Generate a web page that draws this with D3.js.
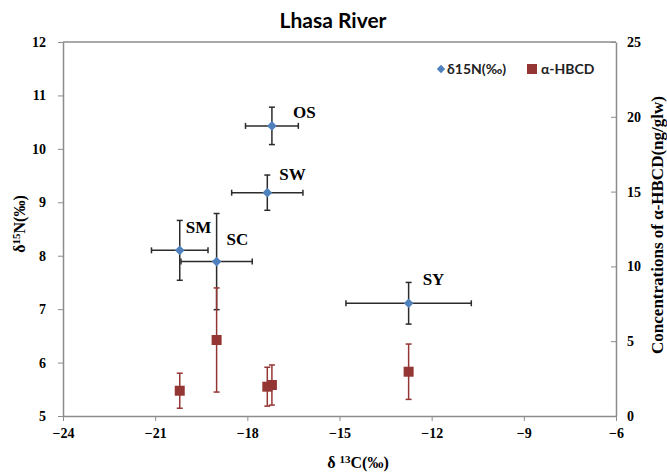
<!DOCTYPE html>
<html>
<head>
<meta charset="utf-8">
<script src="https://cdn.jsdelivr.net/npm/d3@7"></script>
<style>
  body { margin: 0; background: #fff; }
  svg { display: block; }
</style>
</head>
<body>
<div id="chart"></div>
<script>
// Lhasa River: stable isotopes vs alpha-HBCD per site
const sites = ['OS', 'SW', 'SM', 'SC', 'SY'];
const d13C = [-17.2, -17.35, -20.2, -19.0, -12.75];
const d13CErr = [0.86, 1.16, 0.92, 1.16, 2.04];
const d15N = [10.43, 9.18, 8.10, 7.89, 7.11];
const d15NErr = [0.35, 0.33, 0.56, 0.90, 0.39];
const hbcd = [2.07, 1.96, 1.69, 5.08, 2.96];
const hbcdErr = [1.34, 1.30, 1.17, 3.48, 1.85];

const xTicks = [-24, -21, -18, -15, -12, -9, -6];
const yTicks = [5, 6, 7, 8, 9, 10, 11, 12];
const y2Ticks = [0, 5, 10, 15, 20, 25];

// label nudges (px) for the site names
const labelOffset = {
    OS: [21, -8], SW: [12, -13], SM: [6, -17], SC: [10, -17], SY: [14, -18]
};

const W = 667, H = 472;
const margin = { top: 42, right: 51, bottom: 56, left: 63 };
const width = W - margin.left - margin.right;
const height = H - margin.top - margin.bottom;

const blue = '#4F81BD';
const red = '#943634';
const axisGray = '#8c8c8c';
const serif = '"Liberation Serif", "Times New Roman", serif';
const sans = 'Lato, "Open Sans", sans-serif';

const svg = d3.select('#chart').append('svg')
    .attr('width', W)
    .attr('height', H);

const g = svg.append('g')
    .attr('transform', `translate(${margin.left},${margin.top})`);

const x = d3.scaleLinear().domain([-24, -6]).range([0, width]);
const y = d3.scaleLinear().domain([5, 12]).range([height, 0]);
const y2 = d3.scaleLinear().domain([0, 25]).range([height, 0]);

// top border of plot area
g.append('line')
    .attr('x1', 0).attr('x2', width)
    .attr('y1', 0).attr('y2', 0)
    .attr('stroke', axisGray).attr('stroke-width', 1.5);

function styleAxis(sel) {
    sel.select('.domain').attr('stroke', axisGray).attr('stroke-width', 1.5);
    sel.selectAll('.tick line').attr('stroke', axisGray).attr('stroke-width', 1);
    sel.selectAll('.tick text')
        .style('font-family', serif)
        .style('font-size', '14px')
        .style('font-weight', 'bold')
        .attr('fill', '#000');
}

const fmt = d3.format('d');

g.append('g')
    .attr('transform', `translate(0,${height})`)
    .call(d3.axisBottom(x).tickValues(xTicks).tickFormat(fmt).tickSize(5).tickSizeOuter(0).tickPadding(7))
    .call(styleAxis);

g.append('g')
    .call(d3.axisLeft(y).tickValues(yTicks).tickFormat(fmt).tickSize(5).tickSizeOuter(0).tickPadding(12))
    .call(styleAxis);

g.append('g')
    .attr('transform', `translate(${width},0)`)
    .call(d3.axisRight(y2).tickValues(y2Ticks).tickFormat(fmt).tickSize(-5).tickSizeOuter(0).tickPadding(11))
    .call(styleAxis);

// error bars helper
function errorBars(layer, xs, ys, xScale, yScale, yErr, xErr, color) {
    const cap = 3;
    xs.forEach((xv, i) => {
        const cx = xScale(xv), cy = yScale(ys[i]);
        if (xErr) {
            const x0 = xScale(xv - xErr[i]), x1 = xScale(xv + xErr[i]);
            layer.append('line').attr('x1', x0).attr('x2', x1).attr('y1', cy).attr('y2', cy);
            layer.append('line').attr('x1', x0).attr('x2', x0).attr('y1', cy - cap).attr('y2', cy + cap);
            layer.append('line').attr('x1', x1).attr('x2', x1).attr('y1', cy - cap).attr('y2', cy + cap);
        }
        const y0 = yScale(ys[i] - yErr[i]), y1 = yScale(ys[i] + yErr[i]);
        layer.append('line').attr('x1', cx).attr('x2', cx).attr('y1', y0).attr('y2', y1);
        layer.append('line').attr('x1', cx - cap).attr('x2', cx + cap).attr('y1', y0).attr('y2', y0);
        layer.append('line').attr('x1', cx - cap).attr('x2', cx + cap).attr('y1', y1).attr('y2', y1);
    });
    layer.attr('stroke', color).attr('stroke-width', 1.5);
}

// δ15N series
errorBars(g.append('g'), d13C, d15N, x, y, d15NErr, d13CErr, '#2b2b2b');
g.append('g').selectAll('path')
    .data(d13C)
    .enter().append('path')
    .attr('d', d3.symbol().type(d3.symbolDiamond2).size(60))
    .attr('transform', (d, i) => `translate(${x(d)},${y(d15N[i])})`)
    .attr('fill', blue);

// α-HBCD series
errorBars(g.append('g'), d13C, hbcd, x, y2, hbcdErr, null, red);
g.append('g').selectAll('rect')
    .data(d13C)
    .enter().append('rect')
    .attr('x', d => x(d) - 5)
    .attr('y', (d, i) => y2(hbcd[i]) - 5)
    .attr('width', 10).attr('height', 10)
    .attr('fill', red);

// site labels
g.append('g').selectAll('text')
    .data(sites)
    .enter().append('text')
    .attr('x', (d, i) => x(d13C[i]) + labelOffset[d][0])
    .attr('y', (d, i) => y(d15N[i]) + labelOffset[d][1])
    .style('font-family', serif)
    .style('font-size', '17px')
    .style('font-weight', 'bold')
    .text(d => d);

// title
svg.append('text')
    .attr('x', 333).attr('y', 28)
    .attr('text-anchor', 'middle')
    .style('font-family', sans)
    .style('font-size', '21px')
    .style('font-weight', 'bold')
    .text('Lhasa River');

// legend
const legend = svg.append('g').attr('transform', 'translate(441,69)');
legend.append('path')
    .attr('d', d3.symbol().type(d3.symbolDiamond2).size(45))
    .attr('fill', blue);
legend.append('text')
    .attr('x', 6).attr('y', 5)
    .style('font-family', sans).style('font-size', '14px').style('font-weight', 'bold')
    .attr('fill', '#222')
    .text('δ15N(‰)');
legend.append('rect')
    .attr('x', 86).attr('y', -5).attr('width', 10).attr('height', 10)
    .attr('fill', red);
legend.append('text')
    .attr('x', 100).attr('y', 5)
    .style('font-family', sans).style('font-size', '14px').style('font-weight', 'bold')
    .attr('fill', '#222')
    .text('α-HBCD');

// axis titles
const xTitle = svg.append('text')
    .attr('x', 358).attr('y', 468)
    .attr('text-anchor', 'middle')
    .style('font-family', serif).style('font-size', '16px').style('font-weight', 'bold');
xTitle.append('tspan').text('δ ');
xTitle.append('tspan').attr('dy', -5).style('font-size', '11px').text('13');
xTitle.append('tspan').attr('dy', 5).text('C(‰)');

const yTitle = svg.append('text')
    .attr('transform', 'translate(25,224) rotate(-90)')
    .attr('text-anchor', 'middle')
    .style('font-family', serif).style('font-size', '16px').style('font-weight', 'bold');
yTitle.append('tspan').text('δ');
yTitle.append('tspan').attr('dy', -5).style('font-size', '11px').text('15');
yTitle.append('tspan').attr('dy', 5).text('N(‰)');

svg.append('text')
    .attr('transform', 'translate(663,225) rotate(-90)')
    .attr('text-anchor', 'middle')
    .style('font-family', serif).style('font-size', '17px').style('font-weight', 'bold')
    .text('Concentrations of α-HBCD(ng/glw)');
</script>
</body>
</html>
